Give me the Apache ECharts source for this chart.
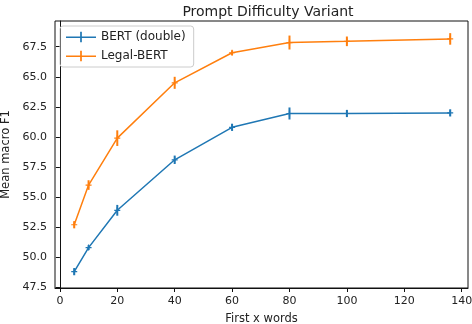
<!DOCTYPE html>
<html>
<head>
<meta charset="utf-8">
<script src="https://cdn.jsdelivr.net/npm/echarts@6/dist/echarts.min.js"></script>
<style>
  html, body { margin: 0; padding: 0; background: #fff; }
  #chart { width: 472px; height: 324px; }
</style>
</head>
<body>
<div id="chart"></div>
<script>
  /* ---- Data ---- */
  const words = [5, 10, 20, 40, 60, 80, 100, 136];
  const bertMean = [48.8, 50.8, 53.9, 58.1, 60.8, 61.95, 61.95, 62.0];
  const bertErr = [0.3, 0.2, 0.45, 0.35, 0.3, 0.5, 0.3, 0.3];
  const legalMean = [52.7, 56.0, 59.9, 64.5, 67.0, 67.85, 67.95, 68.15];
  const legalErr = [0.3, 0.4, 0.65, 0.5, 0.2, 0.58, 0.4, 0.48];
  const xTicks = [0, 20, 40, 60, 80, 100, 120, 140];
  const yTicks = [47.5, 50, 52.5, 55, 57.5, 60, 62.5, 65, 67.5];

  const BLUE = "#1f77b4", ORANGE = "#ff7f0e";
  const FONT = "DejaVu Sans";
  const PLUS = "path://M4,0h2v10h-2z M0,4h10v2h-10z";

  function lineSeries(name, xs, ys, color) {
    return {
      name, type: "line", data: xs.map((x, i) => [x, ys[i]]),
      symbol: PLUS, symbolSize: 6, showSymbol: true,
      lineStyle: { width: 1.5, color }, itemStyle: { color },
      z: 3
    };
  }
  function errSeries(xs, ys, es, color) {
    return {
      type: "custom", silent: true, z: 2,
      data: xs.map((x, i) => [x, ys[i], es[i]]),
      renderItem: (params, api) => {
        const x = api.value(0), y = api.value(1), e = api.value(2);
        const p1 = api.coord([x, y - e]), p2 = api.coord([x, y + e]);
        return {
          type: "line",
          shape: { x1: p1[0], y1: p1[1], x2: p2[0], y2: p2[1] },
          style: { stroke: color, lineWidth: 2 }
        };
      }
    };
  }

  const chart = echarts.init(document.getElementById("chart"), null, { renderer: "canvas" });
  chart.setOption({
    animation: false,
    backgroundColor: "#fff",
    textStyle: { fontFamily: FONT },
    title: {
      text: "Prompt Difficulty Variant", left: 263, textAlign: "center", top: 0,
      textStyle: { fontFamily: FONT, fontSize: 14, fontWeight: "normal", color: "#222" }
    },
    grid: {
      left: 55, right: 4, top: 21, bottom: 36,
      outerBoundsMode: "none", containLabel: false,
      show: true, borderColor: "#111", borderWidth: 1
    },
    legend: {
      left: 60, top: 26, orient: "vertical",
      data: ["BERT (double)", "Legal-BERT"],
      icon: "path://M0,4.5h28v1.5h-28z M13.2,0h1.6v10h-1.6z",
      itemWidth: 30, itemHeight: 11, itemGap: 7,
      padding: [5, 8, 5, 6],
      borderColor: "#ccc", borderWidth: 1, borderRadius: 3,
      textStyle: { fontFamily: FONT, fontSize: 12, color: "#222" }
    },
    xAxis: {
      type: "value", min: -1.7, max: 142.2,
      name: "First x words", nameLocation: "middle", nameGap: 25,
      nameTextStyle: { fontFamily: FONT, fontSize: 11.5, color: "#222" },
      axisLine: { show: true, lineStyle: { color: "#111" } },
      axisTick: { show: true, customValues: xTicks, length: 4, lineStyle: { color: "#111" } },
      axisLabel: { customValues: xTicks, fontFamily: FONT, fontSize: 11, color: "#222", margin: 8 },
      splitLine: { show: false }
    },
    yAxis: {
      type: "value", min: 47.44, max: 69.64,
      name: "Mean macro F1", nameLocation: "middle", nameGap: 39,
      nameTextStyle: { fontFamily: FONT, fontSize: 11.5, color: "#222" },
      axisLine: { show: true, lineStyle: { color: "#111" } },
      axisTick: { show: true, customValues: yTicks, length: 4, lineStyle: { color: "#111" } },
      axisLabel: { customValues: yTicks, fontFamily: FONT, fontSize: 11, color: "#222", margin: 8,
        formatter: v => v.toFixed(1) },
      splitLine: { show: false }
    },
    series: [
      errSeries(words, bertMean, bertErr, BLUE),
      errSeries(words, legalMean, legalErr, ORANGE),
      lineSeries("BERT (double)", words, bertMean, BLUE),
      lineSeries("Legal-BERT", words, legalMean, ORANGE)
    ]
  });
</script>
</body>
</html>
